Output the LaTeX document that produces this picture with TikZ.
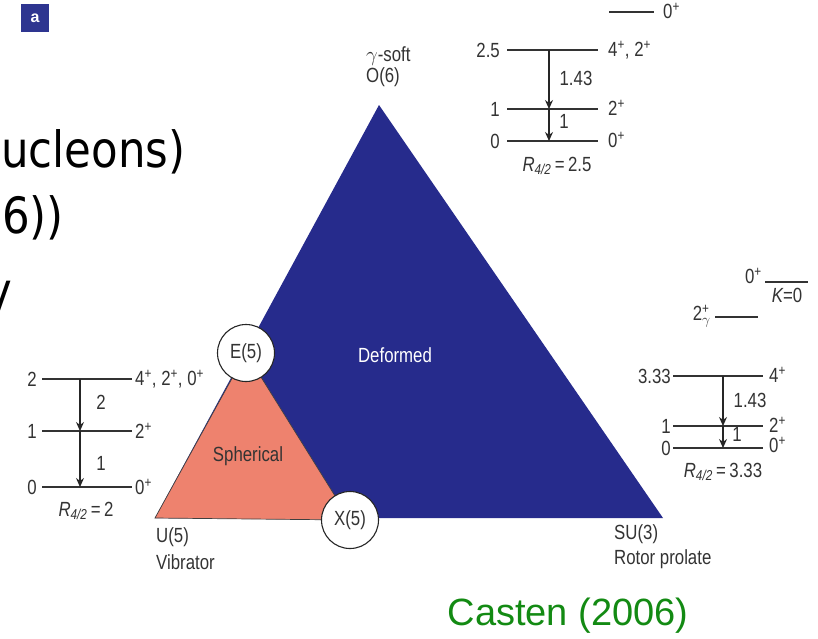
\documentclass[tikz,border=0pt]{standalone}
\usepackage{fontspec}
\setmainfont{Liberation Sans}
\newfontfamily\narrowf[FakeStretch=0.82]{Liberation Sans}
\newfontfamily\bigf{DejaVu Sans}
\usetikzlibrary{arrows.meta}
\definecolor{deepblue}{HTML}{262B8C}
\definecolor{salmonc}{HTML}{EE826E}
\definecolor{labelgray}{HTML}{333333}
\definecolor{castgreen}{HTML}{138A13}
\definecolor{boxblue}{HTML}{2E3590}
\tikzset{
  lbl/.style={font=\narrowf\fontsize{20.5}{20.5}\selectfont, text=labelgray, inner sep=0pt},
  lvl/.style={line width=1.4pt, draw=black!80},
  trans/.style={-{Stealth[length=9pt,width=8pt]}, line width=1.1pt, draw=black!85},
  big/.style={font=\bigf\fontsize{50}{50}\selectfont, inner sep=0pt, anchor=base west, xscale=0.87, transform shape},
  ring/.style={circle, draw=black!85, line width=1.1pt, fill=white, minimum size=57pt, inner sep=0pt, font=\narrowf\fontsize{20.5}{20.5}\selectfont, text=labelgray}
}
\begin{document}
\begin{tikzpicture}[x=1pt,y=-1pt]
\useasboundingbox (0,0) rectangle (818,638);
% panel tag
\node[fill=boxblue, minimum size=28pt, inner sep=0pt, text=white, font=\fontsize{16}{16}\selectfont\bfseries] (tag) at (35,18) {a};
% slide text (cut at the left edge)
\node[big] (t1) at (1,167) {ucleons)};
\node[big] (t2) at (2,233) {6))};
\node[big] (t3) at (-14,308) {y};
% triangle
\coordinate (U) at (155,518);
\coordinate (O) at (379,105);
\coordinate (S) at (663,518);
\coordinate (E) at (246,353);
\coordinate (X) at (350,520);
\fill[deepblue] (U) -- (O) -- (S) -- cycle;
\filldraw[fill=salmonc, draw=black!75, line width=0.7pt] (U) -- (E) -- (X) -- cycle;
\node[ring] (e5) at (E) {E(5)};
\node[ring] (x5) at (X) {X(5)};
\node[lbl, text=white] (def) at (395,355) {Deformed};
\node[lbl] (sph) at (248,456) {Spherical};
\node[lbl, anchor=west] (gs) at (366,56) {$\gamma$-soft};
\node[lbl, anchor=west] (o6) at (366,77) {O(6)};
\node[lbl, anchor=west] (u5) at (156,537) {U(5)};
\node[lbl, anchor=west] (vib) at (156,562) {Vibrator};
\node[lbl, anchor=west] (su3) at (614,534) {SU(3)};
\node[lbl, anchor=west] (rot) at (614,559) {Rotor prolate};
% left scheme
\coordinate (L2a) at (42,379); \coordinate (L2b) at (132,379);
\coordinate (L1a) at (42,431); \coordinate (L1b) at (132,431);
\coordinate (L0a) at (42,487); \coordinate (L0b) at (132,487);
\draw[lvl] (L2a) -- (L2b); \draw[lvl] (L1a) -- (L1b); \draw[lvl] (L0a) -- (L0b);
\coordinate (L2m) at (80,379); \coordinate (L1m) at (80,431); \coordinate (L0m) at (80,487);
\draw[trans] (L2m) -- (L1m);
\draw[trans] (L1m) -- (L0m);
\node[lbl, anchor=east] (l2n) at (37,379) {2};
\node[lbl, anchor=east] (l1n) at (37,431) {1};
\node[lbl, anchor=east] (l0n) at (37,487) {0};
\node[lbl, anchor=west] (l2s) at (135,379) {4\textsuperscript{+}, 2\textsuperscript{+}, 0\textsuperscript{+}};
\node[lbl, anchor=west] (l1s) at (135,431) {2\textsuperscript{+}};
\node[lbl, anchor=west] (l0s) at (135,487) {0\textsuperscript{+}};
\node[lbl] (l21) at (101,402) {2};
\node[lbl] (l10) at (101,463) {1};
\node[lbl] (lr) at (86,511) {\itshape R\textsubscript{4/2}\upshape\,=\,2};
% top right scheme
\coordinate (T3a) at (609,12); \coordinate (T3b) at (654,12);
\draw[lvl] (T3a) -- (T3b);
\node[lbl, anchor=west] (t3s) at (663,11) {0\textsuperscript{+}};
\coordinate (T2a) at (507,50); \coordinate (T2b) at (598,50);
\coordinate (T1a) at (507,109); \coordinate (T1b) at (598,109);
\coordinate (T0a) at (507,141); \coordinate (T0b) at (598,141);
\draw[lvl] (T2a) -- (T2b); \draw[lvl] (T1a) -- (T1b); \draw[lvl] (T0a) -- (T0b);
\coordinate (T2m) at (549,50); \coordinate (T1m) at (549,109); \coordinate (T0m) at (549,141);
\draw[trans] (T2m) -- (T1m);
\draw[trans] (T1m) -- (T0m);
\node[lbl, anchor=east] (t2n) at (500,50) {2.5};
\node[lbl, anchor=east] (t1n) at (500,109) {1};
\node[lbl, anchor=east] (t0n) at (500,141) {0};
\node[lbl, anchor=west] (t2s) at (608,50) {4\textsuperscript{+}, 2\textsuperscript{+}};
\node[lbl, anchor=west] (t1s) at (608,108) {2\textsuperscript{+}};
\node[lbl, anchor=west] (t0s) at (608,140) {0\textsuperscript{+}};
\node[lbl] (t21) at (576,78) {1.43};
\node[lbl] (t10) at (564,121) {1};
\node[lbl] (tr) at (557,166) {\itshape R\textsubscript{4/2}\upshape\,=\,2.5};
% right scheme
\coordinate (Kb0a) at (765,282); \coordinate (Kb0b) at (808,282);
\draw[lvl] (Kb0a) -- (Kb0b);
\node[lbl, anchor=east] (kb0s) at (762,276) {0\textsuperscript{+}};
\node[lbl] (kb0k) at (787,295) {\itshape K\upshape =0};
\coordinate (Gma) at (715,317); \coordinate (Gmb) at (758,317);
\draw[lvl] (Gma) -- (Gmb);
\node[lbl, anchor=east] (gms) at (711,316) {2\rlap{\textsuperscript{+}}\textsubscript{$\gamma$}};
\coordinate (R4a) at (673,376); \coordinate (R4b) at (763,376);
\coordinate (R2a) at (673,426); \coordinate (R2b) at (763,426);
\coordinate (R0a) at (673,448); \coordinate (R0b) at (763,448);
\draw[lvl] (R4a) -- (R4b); \draw[lvl] (R2a) -- (R2b); \draw[lvl] (R0a) -- (R0b);
\coordinate (R4m) at (723,376); \coordinate (R2m) at (723,426); \coordinate (R0m) at (723,448);
\draw[trans] (R4m) -- (R2m);
\draw[trans] (R2m) -- (R0m);
\node[lbl, anchor=east] (r4n) at (671,376) {3.33};
\node[lbl, anchor=east] (r2n) at (671,426) {1};
\node[lbl, anchor=east] (r0n) at (671,448) {0};
\node[lbl, anchor=west] (r4s) at (769,375) {4\textsuperscript{+}};
\node[lbl, anchor=west] (r2s) at (769,425) {2\textsuperscript{+}};
\node[lbl, anchor=west] (r0s) at (769,445) {0\textsuperscript{+}};
\node[lbl] (r42) at (750,400) {1.43};
\node[lbl] (r20) at (737,434) {1};
\node[lbl] (rr) at (723,472) {\itshape R\textsubscript{4/2}\upshape\,=\,3.33};
% citation
\node[font=\fontsize{38}{38}\selectfont, text=castgreen, inner sep=0pt] (cite) at (568,616) {Casten (2006)};
\end{tikzpicture}
\end{document}
